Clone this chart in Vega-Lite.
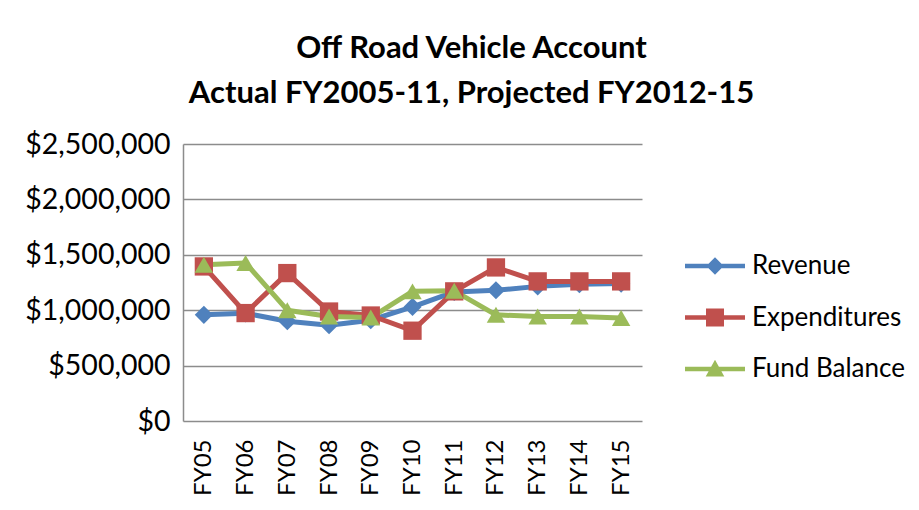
{
  "$schema": "https://vega.github.io/schema/vega-lite/v6.json",
  "autosize": "none",
  "width": 459,
  "height": 277,
  "padding": {"left": 183, "top": 144, "right": 277, "bottom": 89},
  "background": "white",
  "title": {
    "text": ["Off Road Vehicle Account", "Actual FY2005-11, Projected FY2012-15"],
    "font": "Lato",
    "fontSize": 31,
    "fontWeight": "bold",
    "color": "black",
    "lineHeight": 45,
    "anchor": "middle",
    "dx": 59,
    "offset": 20
  },
  "config": {
    "view": {"stroke": null},
    "font": "Lato"
  },
  "data": {
    "values": [
      {"fy": "FY05", "series": "Revenue", "value": 958000},
      {"fy": "FY06", "series": "Revenue", "value": 972000},
      {"fy": "FY07", "series": "Revenue", "value": 900000},
      {"fy": "FY08", "series": "Revenue", "value": 865000},
      {"fy": "FY09", "series": "Revenue", "value": 910000},
      {"fy": "FY10", "series": "Revenue", "value": 1030000},
      {"fy": "FY11", "series": "Revenue", "value": 1165000},
      {"fy": "FY12", "series": "Revenue", "value": 1180000},
      {"fy": "FY13", "series": "Revenue", "value": 1215000},
      {"fy": "FY14", "series": "Revenue", "value": 1235000},
      {"fy": "FY15", "series": "Revenue", "value": 1240000},
      {"fy": "FY05", "series": "Expenditures", "value": 1395000},
      {"fy": "FY06", "series": "Expenditures", "value": 974000},
      {"fy": "FY07", "series": "Expenditures", "value": 1335000},
      {"fy": "FY08", "series": "Expenditures", "value": 988000},
      {"fy": "FY09", "series": "Expenditures", "value": 952000},
      {"fy": "FY10", "series": "Expenditures", "value": 815000},
      {"fy": "FY11", "series": "Expenditures", "value": 1170000},
      {"fy": "FY12", "series": "Expenditures", "value": 1386000},
      {"fy": "FY13", "series": "Expenditures", "value": 1260000},
      {"fy": "FY14", "series": "Expenditures", "value": 1260000},
      {"fy": "FY15", "series": "Expenditures", "value": 1260000},
      {"fy": "FY05", "series": "Fund Balance", "value": 1410000},
      {"fy": "FY06", "series": "Fund Balance", "value": 1426000},
      {"fy": "FY07", "series": "Fund Balance", "value": 1000000},
      {"fy": "FY08", "series": "Fund Balance", "value": 943000},
      {"fy": "FY09", "series": "Fund Balance", "value": 934000},
      {"fy": "FY10", "series": "Fund Balance", "value": 1170000},
      {"fy": "FY11", "series": "Fund Balance", "value": 1175000},
      {"fy": "FY12", "series": "Fund Balance", "value": 958000},
      {"fy": "FY13", "series": "Fund Balance", "value": 943000},
      {"fy": "FY14", "series": "Fund Balance", "value": 943000},
      {"fy": "FY15", "series": "Fund Balance", "value": 929000}
    ]
  },
  "encoding": {
    "x": {
      "field": "fy",
      "type": "ordinal",
      "scale": {"type": "point", "padding": 0.5},
      "axis": {
        "title": null,
        "labelAngle": 270,
        "labelFontSize": 24,
        "labelFont": "Lato",
        "labelColor": "black",
        "labelPadding": 18,
        "ticks": false,
        "domain": false,
        "grid": false
      }
    },
    "y": {
      "field": "value",
      "type": "quantitative",
      "scale": {"domain": [0, 2500000], "nice": false},
      "axis": {
        "title": null,
        "values": [0, 500000, 1000000, 1500000, 2000000, 2500000],
        "format": "$,.0f",
        "labelFontSize": 28.5,
        "labelFont": "Lato",
        "labelColor": "black",
        "labelPadding": 13,
        "ticks": false,
        "domain": true,
        "domainColor": "#8c8c8c",
        "domainWidth": 1.5,
        "grid": true,
        "gridColor": "#8c8c8c",
        "gridWidth": 1.5
      }
    }
  },
  "layer": [
    {
      "mark": {"type": "line", "strokeWidth": 5, "strokeJoin": "round", "strokeCap": "round"},
      "encoding": {
        "color": {
          "field": "series",
          "type": "nominal",
          "scale": {"domain": ["Revenue", "Expenditures", "Fund Balance"], "range": ["#4F81BD", "#C0504D", "#9BBB59"]},
          "legend": null
        },
        "order": {"field": "series"}
      }
    },
    {
      "mark": {"type": "point", "filled": true, "opacity": 1},
      "encoding": {
        "color": {
          "field": "series",
          "type": "nominal",
          "scale": {"domain": ["Revenue", "Expenditures", "Fund Balance"], "range": ["#4F81BD", "#C0504D", "#9BBB59"]},
          "legend": null
        },
        "shape": {
          "field": "series",
          "type": "nominal",
          "scale": {"domain": ["Revenue", "Expenditures", "Fund Balance"], "range": ["diamond", "square", "triangle-up"]},
          "legend": null
        },
        "size": {
          "field": "series",
          "type": "nominal",
          "scale": {"domain": ["Revenue", "Expenditures", "Fund Balance"], "range": [330, 340, 440]},
          "legend": null
        }
      }
    },
    {
      "transform": [{"filter": "datum.value < 0"}],
      "mark": {"type": "point", "filled": true, "opacity": 1},
      "encoding": {
        "color": {
          "field": "series",
          "type": "nominal",
          "scale": {"domain": ["Revenue", "Expenditures", "Fund Balance"], "range": ["#4F81BD", "#C0504D", "#9BBB59"]},
          "legend": {
            "title": null,
            "orient": "none",
            "legendX": 517,
            "legendY": 107,
            "padding": 0,
            "symbolSize": 900,
            "symbolStrokeWidth": 0,
            "labelOffset": 22,
            "labelFontSize": 26,
            "labelFont": "Lato",
            "labelColor": "black",
            "rowPadding": 23.5
          }
        },
        "shape": {
          "field": "series",
          "type": "nominal",
          "scale": {
            "domain": ["Revenue", "Expenditures", "Fund Balance"],
            "range": [
              "M-2,-0.15H2V0.15H-2Z M0,-0.58L0.58,0L0,0.58L-0.58,0Z",
              "M-2,-0.15H2V0.15H-2Z M-0.6,-0.6H0.6V0.6H-0.6Z",
              "M-2,-0.15H2V0.15H-2Z M0,-0.62L0.62,0.5H-0.62Z"
            ]
          },
          "legend": {
            "title": null,
            "orient": "none",
            "legendX": 517,
            "legendY": 107,
            "padding": 0,
            "symbolSize": 900,
            "symbolStrokeWidth": 0,
            "labelOffset": 22,
            "labelFontSize": 26,
            "labelFont": "Lato",
            "labelColor": "black",
            "rowPadding": 23.5
          }
        }
      }
    }
  ],
  "resolve": {"scale": {"color": "independent", "shape": "independent", "size": "independent"}}
}
